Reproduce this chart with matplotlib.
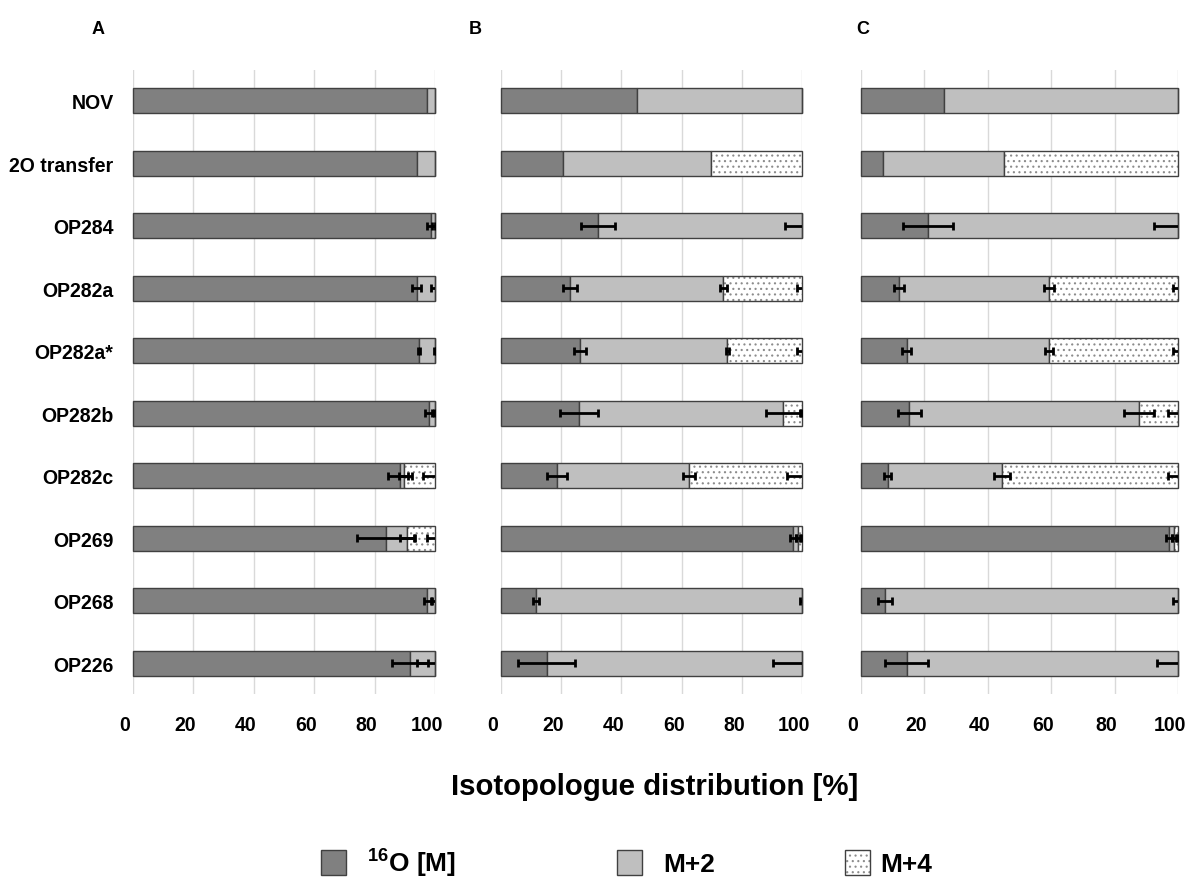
import numpy as np
import matplotlib
matplotlib.use("Agg")
import matplotlib.pyplot as plt
from matplotlib import font_manager
from matplotlib.patches import Rectangle
from matplotlib.transforms import ScaledTranslation

# the original uses a narrow bold sans; use one if it is installed
names = {f.name for f in font_manager.fontManager.ttflist}
if 'Liberation Sans Narrow' in names:
    FONT, S = 'Liberation Sans Narrow', 1.0
else:
    FONT, S = 'Liberation Sans', 0.88

plt.rcParams['font.family'] = [FONT, 'DejaVu Sans']
plt.rcParams['font.weight'] = 'bold'
plt.rcParams['mathtext.fontset'] = 'custom'
plt.rcParams['mathtext.rm'] = FONT + ':bold'
plt.rcParams['mathtext.bf'] = FONT + ':bold'
plt.rcParams['hatch.color'] = '#8c8c8c'
plt.rcParams['hatch.linewidth'] = 0.8

# ---- data ----
labels = ['NOV', '2O transfer', 'OP284', 'OP282a', 'OP282a*',
          'OP282b', 'OP282c', 'OP269', 'OP268', 'OP226']
ticks = [0, 20, 40, 60, 80, 100]

# panel A
a_m0 = [97.2, 93.9, 98.7, 93.9, 94.8, 98.1, 88.4, 83.7, 97.5, 91.7]
a_m2 = [2.8, 6.1, 1.3, 6.1, 5.2, 1.9, 1.3, 7.1, 2.5, 8.3]
a_m4 = [0, 0, 0, 0, 0, 0, 10.3, 9.2, 0, 0]
a_e0 = [0, 0, 1.3, 1.5, 0.3, 1.5, 4.1, 9.6, 1.3, 6.0]
a_e2 = [0, 0, 1.0, 1.2, 0.3, 1.0, 1.5, 2.4, 1.0, 6.0]
a_e4 = [0, 0, 0, 0, 0, 0, 4.0, 2.5, 0, 0]

# panel B
b_m0 = [45.1, 20.5, 32.3, 22.9, 26.2, 25.9, 18.5, 96.9, 11.6, 15.2]
b_m2 = [54.9, 49.2, 67.7, 51.0, 49.0, 67.9, 44.1, 1.9, 88.4, 84.8]
b_m4 = [0, 30.3, 0, 26.1, 24.8, 6.2, 37.4, 1.2, 0, 0]
b_e0 = [0, 0, 5.7, 2.2, 2.0, 6.4, 3.3, 1.0, 1.0, 9.4]
b_e2 = [0, 0, 5.6, 1.3, 0.5, 5.8, 2.0, 0.8, 0.5, 9.5]
b_e4 = [0, 0, 0, 1.7, 1.5, 0.8, 4.9, 0.5, 0, 0]

# panel C
c_m0 = [26.1, 6.9, 21.0, 12.0, 14.4, 15.2, 8.4, 97.2, 7.6, 14.4]
c_m2 = [73.9, 38.3, 79.0, 47.3, 45.0, 72.5, 36.2, 1.6, 92.4, 85.6]
c_m4 = [0, 54.8, 0, 40.7, 40.6, 12.3, 55.4, 1.2, 0, 0]
c_e0 = [0, 0, 7.9, 1.7, 1.5, 3.6, 1.2, 1.0, 2.1, 6.7]
c_e2 = [0, 0, 7.6, 1.7, 1.3, 4.6, 2.5, 0.8, 1.5, 6.7]
c_e4 = [0, 0, 0, 1.7, 1.5, 3.3, 3.0, 0.5, 0, 0]

panels = [('A', a_m0, a_m2, a_m4, a_e0, a_e2, a_e4),
          ('B', b_m0, b_m2, b_m4, b_e0, b_e2, b_e4),
          ('C', c_m0, c_m2, c_m4, c_e0, c_e2, c_e4)]

# axes placement (figure pixels -> fractions)
W, H = 1204, 879
ax_x = [(133, 435), (501, 802), (861, 1178)]
letter_x = [98, 475, 863]
dark, light, edge = '#808080', '#bfbfbf', '#404040'

fig = plt.figure(figsize=(W / 100, H / 100), dpi=100)
y = np.arange(len(labels))

for i, (name, m0, m2, m4, e0, e2, e4) in enumerate(panels):
    x0, x1 = ax_x[i]
    ax = fig.add_axes([x0 / W, 1 - 695 / H, (x1 - x0) / W, 624 / H])
    m0, m2, m4 = np.array(m0), np.array(m2), np.array(m4)
    kw = dict(height=0.4, edgecolor=edge, linewidth=1, clip_on=False, zorder=2)
    ax.barh(y, m0, color=dark, **kw)
    ax.barh(y, m2, left=m0, color=light, **kw)
    ax.barh(y, m4, left=m0 + m2, color='white', hatch='...',
            height=0.4, edgecolor='#8c8c8c', linewidth=0, zorder=2)
    ax.barh(y, m4, left=m0 + m2, fill=False, **kw)

    for pos, err in [(m0, e0), (m0 + m2, e2), (m0 + m2 + m4, e4)]:
        err = np.array(err)
        k = err > 0
        ax.errorbar(pos[k], y[k], xerr=err[k], fmt='none', ecolor='black',
                    elinewidth=2, capsize=3, capthick=2, zorder=3)

    ax.set_xlim(0, 100)
    ax.set_ylim(len(labels) - 0.51, -0.49)
    ax.set_yticks(y)
    ax.tick_params(axis='both', length=0)
    ax.tick_params(axis='x', pad=15)
    if i == 0:
        ax.set_yticklabels(labels, fontsize=16 * S, fontweight='bold')
        ax.tick_params(axis='y', pad=14)
    else:
        ax.set_yticklabels([])
    ax.set_xticks(ticks)
    ax.set_xticklabels([str(t) for t in ticks], fontsize=16 * S,
                       fontweight='bold')
    # tick numbers sit a little left of their gridlines in the original
    off = ScaledTranslation(-8 / 100, 0, fig.dpi_scale_trans)
    for lab in ax.get_xticklabels():
        lab.set_transform(lab.get_transform() + off)
    ax.grid(axis='x', color='#d9d9d9', linewidth=1)
    ax.set_axisbelow(True)
    for s in ax.spines.values():
        s.set_visible(False)

    fig.text(letter_x[i] / W, 1 - 30 / H, name, fontsize=13,
             fontweight='bold', ha='center', va='center')

fig.text(655 / W, 1 - 787 / H, 'Isotopologue distribution [%]',
         fontsize=24 * S, fontweight='bold', ha='center', va='center')

# legend
leg = [(321, dark, None, r'$^{16}$O [M]', 367),
       (617, light, None, 'M+2', 663),
       (845, 'white', '...', 'M+4', 880)]
for sx, col, hat, txt, tx in leg:
    box = (sx / W, 1 - 876 / H)
    if hat:
        fig.add_artist(Rectangle(box, 25 / W, 25 / H,
                                 transform=fig.transFigure, facecolor='white',
                                 hatch=hat, edgecolor='#8c8c8c', linewidth=0))
        fig.add_artist(Rectangle(box, 25 / W, 25 / H,
                                 transform=fig.transFigure, fill=False,
                                 edgecolor=edge, linewidth=1))
    else:
        fig.add_artist(Rectangle(box, 25 / W, 25 / H,
                                 transform=fig.transFigure, facecolor=col,
                                 edgecolor=edge, linewidth=1))
    fig.text(tx / W, 1 - 872 / H, txt, fontsize=21.5 * S, fontweight='bold',
             ha='left', va='baseline')

fig.savefig('out.png', dpi=100)
